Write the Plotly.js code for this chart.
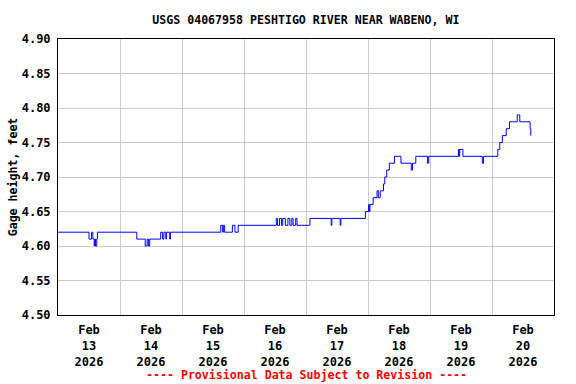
<!DOCTYPE html>
<html>
<head>
<meta charset="utf-8">
<script src="https://cdn.plot.ly/plotly-3.0.1.min.js"></script>
<style>html,body{margin:0;padding:0;background:#fff;}#chart{width:576px;height:384px;}</style>
</head>
<body>
<div id="chart"></div>
<script>
const times = [
"2026-02-13 00:00","2026-02-13 12:00","2026-02-13 13:00","2026-02-13 13:30","2026-02-13 14:00",
"2026-02-13 14:15","2026-02-13 14:30","2026-02-13 15:00","2026-02-13 15:15","2026-02-14 06:30",
"2026-02-14 09:45","2026-02-14 10:30","2026-02-14 11:00","2026-02-14 11:30","2026-02-14 15:45",
"2026-02-14 16:30","2026-02-14 17:00","2026-02-14 17:45","2026-02-14 18:00","2026-02-14 19:15",
"2026-02-14 19:30","2026-02-15 15:00","2026-02-15 15:45","2026-02-15 16:00","2026-02-15 16:30",
"2026-02-15 19:30","2026-02-15 20:30","2026-02-15 21:45","2026-02-16 12:30","2026-02-16 13:00",
"2026-02-16 13:45","2026-02-16 14:30","2026-02-16 15:00","2026-02-16 16:00","2026-02-16 17:00",
"2026-02-16 17:45","2026-02-16 18:30","2026-02-16 19:00","2026-02-16 20:00","2026-02-16 20:30",
"2026-02-17 01:30","2026-02-17 09:45","2026-02-17 10:00","2026-02-17 13:15","2026-02-17 13:30",
"2026-02-17 23:00","2026-02-18 00:15","2026-02-18 00:30","2026-02-18 00:45","2026-02-18 02:00",
"2026-02-18 03:30","2026-02-18 04:00","2026-02-18 04:45","2026-02-18 06:00","2026-02-18 06:30",
"2026-02-18 07:15","2026-02-18 08:15","2026-02-18 10:15","2026-02-18 12:45","2026-02-18 16:45",
"2026-02-18 17:15","2026-02-18 18:30","2026-02-18 23:00","2026-02-18 23:30","2026-02-19 11:00",
"2026-02-19 11:15","2026-02-19 11:30","2026-02-19 12:45","2026-02-19 20:15","2026-02-19 20:45",
"2026-02-20 02:15","2026-02-20 03:00","2026-02-20 04:00","2026-02-20 05:30","2026-02-20 06:45",
"2026-02-20 09:45","2026-02-20 10:45","2026-02-20 14:45","2026-02-20 15:00"
];
const gageHeight = [
4.62,4.61,4.62,4.61,4.60,
4.61,4.60,4.61,4.62,4.61,
4.60,4.61,4.60,4.61,4.62,
4.61,4.62,4.61,4.62,4.61,
4.62,4.63,4.62,4.63,4.62,
4.63,4.62,4.63,4.64,4.63,
4.64,4.63,4.64,4.63,4.64,
4.63,4.64,4.63,4.64,4.63,
4.64,4.63,4.64,4.63,4.64,
4.65,4.66,4.65,4.66,4.67,
4.68,4.67,4.68,4.69,4.70,
4.71,4.72,4.73,4.72,4.71,
4.72,4.73,4.72,4.73,4.74,
4.73,4.74,4.73,4.72,4.73,
4.74,4.75,4.76,4.77,4.78,
4.79,4.78,4.77,4.76
];
const xRange = ["2026-02-13 00:00", "2026-02-21 00:00"];
const yRange = [4.50, 4.90];
const titleText = "USGS 04067958 PESHTIGO RIVER NEAR WABENO, WI";
const yTitle = "Gage height, feet";
const footerText = "---- Provisional Data Subject to Revision ----";

const FONT = "DejaVu Sans Mono";
const trace = {
  x: times, y: gageHeight, type: "scatter", mode: "lines",
  line: {color: "#0000ff", width: 1, shape: "hv"},
  hoverinfo: "skip"
};
const layout = {
  width: 576, height: 384,
  margin: {l: 58, r: 22, t: 39, b: 69},
  paper_bgcolor: "#ffffff", plot_bgcolor: "#ffffff",
  showlegend: false,
  font: {family: FONT, size: 12, color: "#000"},
  title: {text: titleText, font: {family: FONT, size: 11.6, color: "#000", weight: "bold"},
          x: 0.531, xanchor: "center", y: 0.948, yanchor: "middle"},
  xaxis: {
    type: "date", range: xRange,
    dtick: 86400000, tick0: "2026-02-13 00:00",
    ticklabelmode: "period",
    tickformat: "%b<br>%d<br>%Y",
    showgrid: true, gridcolor: "#cccccc", gridwidth: 1,
    ticks: "outside", ticklen: 4, tickcolor: "rgba(0,0,0,0)",
    showline: true, linecolor: "#000", linewidth: 1, mirror: true,
    zeroline: false,
    tickfont: {family: FONT, size: 12, color: "#000", weight: "bold"}
  },
  yaxis: {
    range: yRange, dtick: 0.05, tick0: 4.5, tickformat: ".2f",
    showgrid: true, gridcolor: "#cccccc", gridwidth: 1,
    ticks: "outside", ticklen: 4, tickcolor: "rgba(0,0,0,0)",
    showline: true, linecolor: "#000", linewidth: 1, mirror: true,
    zeroline: false,
    tickfont: {family: FONT, size: 12, color: "#000", weight: "bold"},
    title: {text: yTitle, font: {family: FONT, size: 11.6, color: "#000", weight: "bold"}, standoff: 1}
  },
  annotations: [{
    text: footerText, xref: "paper", yref: "paper",
    x: 0.5, y: -0.218, xanchor: "center", yanchor: "middle", showarrow: false,
    font: {family: FONT, size: 11.6, color: "#ff0000", weight: "bold"}
  }]
};
Plotly.newPlot("chart", [trace], layout, {staticPlot: true, displayModeBar: false});
</script>
</body>
</html>
